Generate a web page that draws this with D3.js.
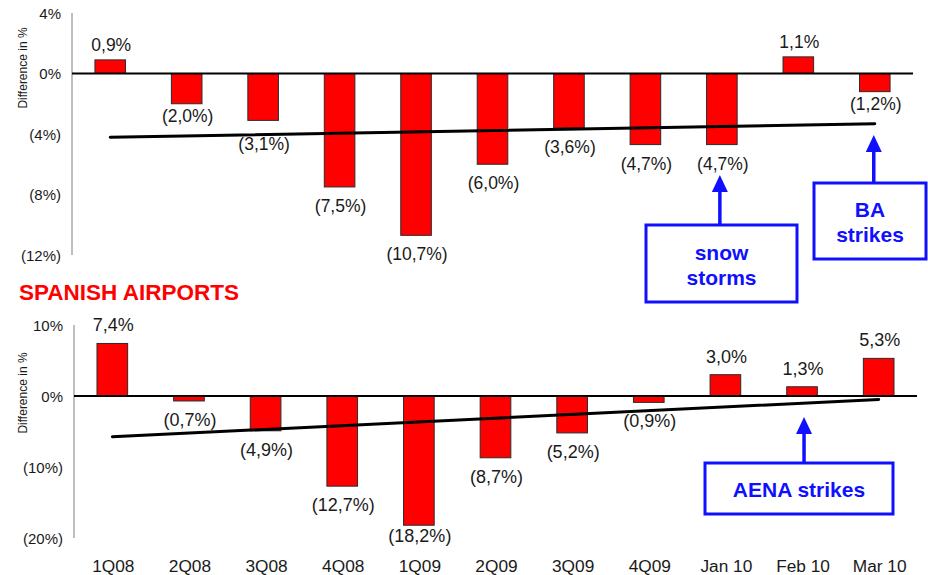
<!DOCTYPE html>
<html>
<head>
<meta charset="utf-8">
<script src="https://cdn.jsdelivr.net/npm/d3@7"></script>
<style>
  html, body { margin: 0; padding: 0; background: #fff; }
  svg { display: block; font-family: "Liberation Sans", Arial, sans-serif; }
</style>
</head>
<body>
<svg id="chart" width="928" height="575"></svg>
<script>
// Periods on the horizontal axis
const periods = ["1Q08", "2Q08", "3Q08", "4Q08", "1Q09", "2Q09", "3Q09", "4Q09", "Jan 10", "Feb 10", "Mar 10"];

// Year-on-year traffic difference (%) — first panel
const topValues = [0.9, -2.0, -3.1, -7.5, -10.7, -6.0, -3.6, -4.7, -4.7, 1.1, -1.2];
// Year-on-year traffic difference (%) — Spanish airports
const spainValues = [7.4, -0.7, -4.9, -12.7, -18.2, -8.7, -5.2, -0.9, 3.0, 1.3, 5.3];

// Axis tick values for each panel
const topTicks = [4, 0, -4, -8, -12];
const spainTicks = [10, 0, -10, -20];

const svg = d3.select("#chart");

// Percent formatting with comma decimals, negatives in parentheses
const fmtLabel = v => {
  const s = Math.abs(v).toFixed(1).replace(".", ",") + "%";
  return v < 0 ? "(" + s + ")" : s;
};
const fmtTick = v => (v < 0 ? "(" + Math.abs(v) + "%)" : v + "%");

// Least-squares trend over the period index
function trend(values) {
  const n = values.length;
  const xm = (n - 1) / 2;
  const ym = d3.mean(values);
  let sxy = 0, sxx = 0;
  values.forEach((v, i) => { sxy += (i - xm) * (v - ym); sxx += (i - xm) * (i - xm); });
  const b = sxy / sxx;
  return [ym - b * xm, ym + b * (n - 1 - xm)];
}

function panel(cfg) {
  const g = svg.append("g");
  const x = d3.scaleBand().domain(periods).range([cfg.x0, cfg.x1]).paddingInner(0.6).paddingOuter(0.3);
  const y = d3.scaleLinear().domain(cfg.domain).range([cfg.yTop, cfg.yBottom]);

  // value axis (thin grey line, labels only)
  g.append("line")
    .attr("x1", cfg.x0).attr("x2", cfg.x0)
    .attr("y1", y(cfg.domain[0])).attr("y2", y(cfg.domain[1]))
    .attr("stroke", "#7f7f7f").attr("stroke-width", 1);
  g.selectAll("text.tick").data(cfg.ticks).join("text")
    .attr("class", "tick")
    .attr("x", cfg.x0 - 11).attr("y", d => y(d))
    .attr("text-anchor", "end").attr("dominant-baseline", "central")
    .attr("font-size", 15).attr("fill", "#1a1a1a")
    .text(fmtTick);

  // axis title
  g.append("text")
    .attr("transform", `translate(23,${cfg.titleY}) rotate(-90)`)
    .attr("text-anchor", "middle").attr("dominant-baseline", "central")
    .attr("font-size", 12).attr("fill", "#1a1a1a")
    .text("Difference in %");

  // bars
  g.selectAll("rect.bar").data(cfg.values).join("rect")
    .attr("class", "bar")
    .attr("x", (d, i) => x(periods[i]))
    .attr("width", x.bandwidth())
    .attr("y", d => y(Math.max(0, d)))
    .attr("height", d => Math.abs(y(d) - y(0)))
    .attr("fill", "#ff0000").attr("stroke", "#2b2b2b").attr("stroke-width", 1);

  // zero baseline
  g.append("line")
    .attr("x1", cfg.x0).attr("x2", cfg.x1)
    .attr("y1", y(0)).attr("y2", y(0))
    .attr("stroke", "#000").attr("stroke-width", 2);

  // trend line between first and last period centres
  const [t0, t1] = trend(cfg.values);
  const cx = p => x(p) + x.bandwidth() / 2;
  g.append("line")
    .attr("x1", cx(periods[0])).attr("y1", y(t0))
    .attr("x2", cx(periods[periods.length - 1])).attr("y2", y(t1))
    .attr("stroke", "#000").attr("stroke-width", 3).attr("stroke-linecap", "round");

  // value labels
  g.selectAll("text.val").data(cfg.values).join("text")
    .attr("class", "val")
    .attr("x", (d, i) => cx(periods[i]) + 1)
    .attr("y", (d, i) => {
      const nudge = cfg.labelGap[periods[i]];
      if (d >= 0) return y(d) - (nudge ?? cfg.posGap);
      return y(d) + (nudge ?? cfg.negGap);
    })
    .attr("text-anchor", "middle").attr("dominant-baseline", "central")
    .attr("font-size", cfg.labelSize).attr("fill", "#1a1a1a")
    .text(fmtLabel);

  return { x, y, cx };
}

const upper = panel({
  values: topValues, ticks: topTicks, domain: [4, -12],
  x0: 72, x1: 913, yTop: 13, yBottom: 255, titleY: 68,
  posGap: 15, negGap: 19, labelSize: 17.5,
  labelGap: { "2Q08": 12, "3Q08": 24, "Mar 10": 12 }
});

const spain = panel({
  values: spainValues, ticks: spainTicks, domain: [10, -20],
  x0: 74, x1: 917, yTop: 325, yBottom: 538, titleY: 393,
  posGap: 18, negGap: 19, labelSize: 18,
  labelGap: { "1Q09": 11 }
});

// period labels along the bottom
svg.selectAll("text.period").data(periods).join("text")
  .attr("class", "period")
  .attr("x", p => spain.cx(p) + 1)
  .attr("y", 566)
  .attr("text-anchor", "middle").attr("dominant-baseline", "central")
  .attr("font-size", 17.3).attr("fill", "#1a1a1a")
  .text(p => p);

// section heading
svg.append("text")
  .attr("x", 19).attr("y", 300)
  .attr("font-size", 22.5).attr("font-weight", "bold").attr("fill", "#ff0000")
  .text("SPANISH AIRPORTS");

// event callouts: boxed note with an arrow pointing up at the period
const blue = "#1010ff";
function callout(opts) {
  const g = svg.append("g");
  g.append("rect")
    .attr("x", opts.box[0]).attr("y", opts.box[1])
    .attr("width", opts.box[2]).attr("height", opts.box[3])
    .attr("fill", "#fff").attr("stroke", blue).attr("stroke-width", 3);
  const ax = opts.arrowX;
  g.append("line")
    .attr("x1", ax).attr("x2", ax)
    .attr("y1", opts.box[1]).attr("y2", opts.tip + 14)
    .attr("stroke", blue).attr("stroke-width", 3.5);
  g.append("path")
    .attr("d", `M${ax},${opts.tip} L${ax - 8},${opts.tip + 17} L${ax + 8},${opts.tip + 17} Z`)
    .attr("fill", blue);
  const cxm = opts.box[0] + opts.box[2] / 2;
  const lines = opts.text;
  const cy = opts.box[1] + opts.box[3] / 2;
  g.selectAll("text").data(lines).join("text")
    .attr("x", cxm)
    .attr("y", (d, i) => cy + (i - (lines.length - 1) / 2) * 25 + 1)
    .attr("text-anchor", "middle").attr("dominant-baseline", "central")
    .attr("font-size", 21).attr("font-weight", "bold").attr("fill", blue)
    .text(d => d);
}

callout({ box: [646, 225, 151, 77], arrowX: upper.cx("Jan 10") - 2, tip: 175, text: ["snow", "storms"] });
callout({ box: [814, 183, 112, 76], arrowX: upper.cx("Mar 10") - 1, tip: 135, text: ["BA", "strikes"] });
callout({ box: [705, 463, 188, 51], arrowX: spain.cx("Feb 10") + 2, tip: 417, text: ["AENA strikes"] });
</script>
</body>
</html>
